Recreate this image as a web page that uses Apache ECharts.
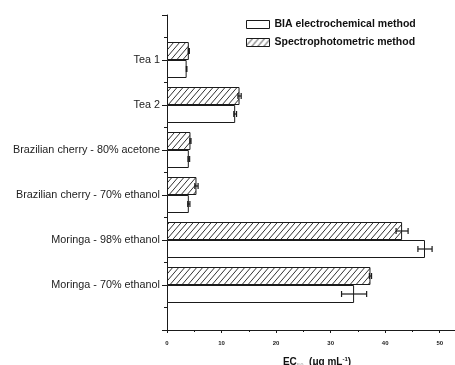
<!DOCTYPE html>
<html>
<head>
<meta charset="utf-8">
<style>html,body{margin:0;padding:0;background:#fff;}#c{width:455px;height:365px;}</style>
<script src="https://cdn.jsdelivr.net/npm/echarts@6/dist/echarts.min.js"></script>
</head>
<body>
<div id="c"></div>
<script>
const categories = ['Tea 1', 'Tea 2', 'Brazilian cherry - 80% acetone', 'Brazilian cherry - 70% ethanol', 'Moringa - 98% ethanol', 'Moringa - 70% ethanol'];
const biaValues = [3.6, 12.5, 4.0, 4.0, 47.3, 34.3];
const biaErrors = [0.05, 0.25, 0.15, 0.2, 1.3, 2.3];
const specValues = [4.0, 13.3, 4.3, 5.4, 43.1, 37.3];
const specErrors = [0.1, 0.3, 0.1, 0.3, 1.1, 0.2];
const xTicks = [0, 10, 20, 30, 40, 50];

const BAR_W = 18;
const INK = '#1a1a1a';

// hatch pattern
const pc = document.createElement('canvas');
pc.width = 6; pc.height = 7;
const ctx = pc.getContext('2d');
ctx.fillStyle = '#fff'; ctx.fillRect(0, 0, 6, 7);
ctx.strokeStyle = INK; ctx.lineWidth = 0.9;
for (let k = -1; k <= 1; k++) {
  ctx.beginPath();
  ctx.moveTo(k * 6 - 0.5, 7 + 0.58);
  ctx.lineTo(k * 6 + 6.5, -0.58);
  ctx.stroke();
}
const hatch = { image: pc, repeat: 'repeat' };

const axisCats = [''].concat(categories).concat([' ']);
const pad = arr => [null].concat(arr).concat([null]);

function errSeries(name, vals, errs, off) {
  return {
    type: 'custom',
    name: name + ' err',
    xAxisIndex: 0, yAxisIndex: 0,
    z: 5,
    silent: true,
    data: vals.map((v, i) => [v, i + 1, errs[i]]),
    encode: { x: 0, y: 1 },
    renderItem: function (params, api) {
      const v = api.value(0), c = api.value(1), e = api.value(2);
      const lo = api.coord([v - e, c]);
      const hi = api.coord([v + e, c]);
      const y = lo[1] + off;
      const h = 3;
      const st = { stroke: INK, lineWidth: 1.2 };
      return {
        type: 'group',
        children: [
          { type: 'line', shape: { x1: lo[0], y1: y, x2: hi[0], y2: y }, style: st },
          { type: 'line', shape: { x1: lo[0], y1: y - h, x2: lo[0], y2: y + h }, style: st },
          { type: 'line', shape: { x1: hi[0], y1: y - h, x2: hi[0], y2: y + h }, style: st }
        ]
      };
    }
  };
}

const chart = echarts.init(document.getElementById('c'), null, { renderer: 'canvas' });
chart.setOption({
  animation: false,
  backgroundColor: '#fff',
  textStyle: { fontFamily: 'Liberation Sans, Arial, sans-serif' },
  grid: { left: 167, right: -12, top: 15, bottom: 35, containLabel: false, outerBoundsMode: 'none' },
  legend: {
    orient: 'vertical',
    left: 241, top: 14,
    itemWidth: 23, itemHeight: 8, itemGap: 7,
    icon: 'rect',
    itemStyle: { borderWidth: 1, borderColor: INK },
    data: ['BIA electrochemical method', 'Spectrophotometric method'],
    textStyle: { fontSize: 10.5, fontWeight: 'bold', color: '#111', fontFamily: 'Liberation Sans, Arial, sans-serif' }
  },
  xAxis: {
    type: 'value', min: 0, max: 55, interval: 10,
    offset: 4,
    axisLine: { show: true, lineStyle: { color: INK, width: 1 } },
    axisTick: { show: true, length: 3, inside: false, lineStyle: { color: INK } },
    minorTick: { show: true, splitNumber: 2, length: 2, lineStyle: { color: INK } },
    splitLine: { show: false },
    axisLabel: {
      fontSize: 6, fontWeight: 'bold', color: '#222', margin: 6,
      formatter: v => (xTicks.indexOf(v) >= 0 ? String(v) : '')
    },
    name: 'EC{sub|50}  (μg mL{sup|-1})',
    nameLocation: 'middle',
    nameGap: 22,
    nameTextStyle: {
      fontSize: 10, fontWeight: 'bold', color: '#111', lineHeight: 12,
      rich: {
        sub: { fontSize: 6, fontWeight: 'bold', color: '#bbb', verticalAlign: 'bottom', lineHeight: 12 },
        sup: { fontSize: 6, fontWeight: 'bold', color: '#111', verticalAlign: 'top', lineHeight: 12 }
      }
    }
  },
  yAxis: [
    {
      type: 'category', inverse: true, boundaryGap: false,
      data: axisCats,
      axisLine: { show: true, lineStyle: { color: INK, width: 1 } },
      axisTick: { show: true, length: 5, alignWithLabel: true, lineStyle: { color: INK } },
      axisLabel: { fontSize: 10.8, color: '#222', margin: 7 },
      splitLine: { show: false }
    },
    {
      type: 'value', min: 0, max: 7, interval: 0.5, position: 'left',
      axisLine: { show: false },
      axisTick: { show: true, length: 3, lineStyle: { color: INK } },
      axisLabel: { show: false },
      splitLine: { show: false }
    }
  ],
  series: [
    {
      type: 'bar', name: 'Spectrophotometric method',
      xAxisIndex: 0, yAxisIndex: 0,
      barWidth: BAR_W, barGap: '0%',
      data: pad(specValues),
      itemStyle: { color: hatch, borderColor: INK, borderWidth: 1 }
    },
    {
      type: 'bar', name: 'BIA electrochemical method',
      xAxisIndex: 0, yAxisIndex: 0,
      barWidth: BAR_W, barGap: '0%',
      data: pad(biaValues),
      itemStyle: { color: '#fff', borderColor: INK, borderWidth: 1 }
    },
    errSeries('Spectrophotometric method', specValues, specErrors, -BAR_W / 2),
    errSeries('BIA electrochemical method', biaValues, biaErrors, BAR_W / 2)
  ]
});
</script>
</body>
</html>
